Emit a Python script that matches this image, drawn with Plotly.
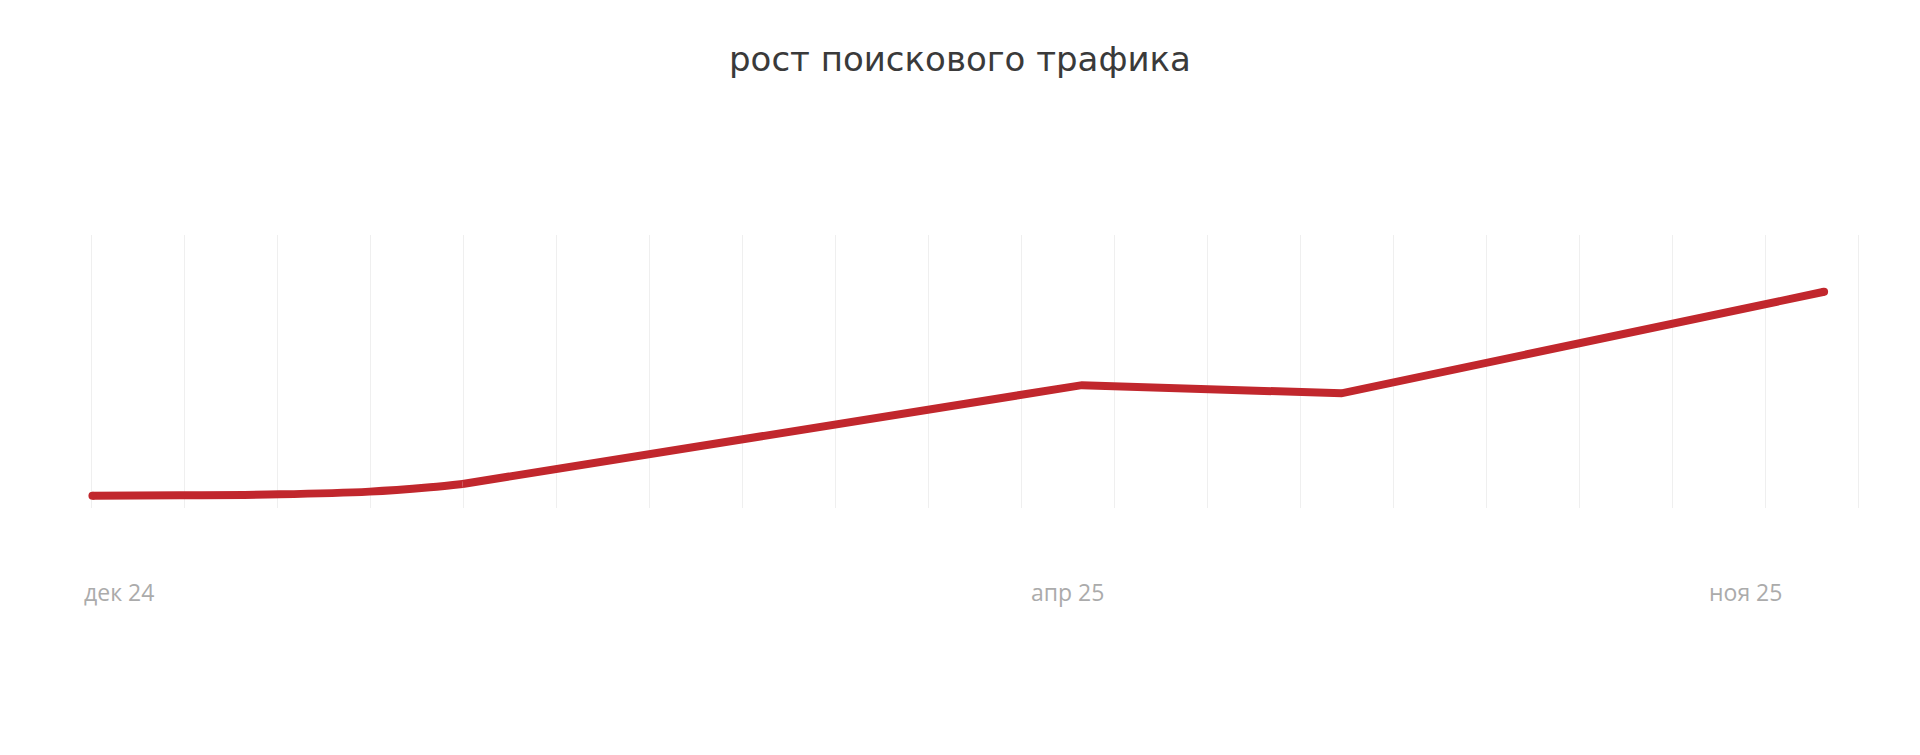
import plotly.graph_objects as go

# Data (x in grid-column units, y as relative traffic index 0..100)
x_vals = [0.01, 0.95, 2.02, 2.99, 3.64, 3.99, 10.65, 13.44, 18.63]
traffic = [4.5, 4.65, 5.0, 6.0, 7.6, 8.8, 45.0, 42.0, 79.2]

grid_positions = list(range(20))
label_positions = [0.30, 10.49, 17.78]
label_texts = ["дек 24", "апр 25", "ноя 25"]

title_text = "рост поискового трафика"

FONT = "Open Sans"
TITLE_FONT = "DejaVu Sans"
RED = "#C1272D"
LW = 8
SPLIT = 5  # smooth start segment up to this index, straight afterwards

fig = go.Figure()
fig.add_trace(go.Scatter(
    x=x_vals[:SPLIT + 1], y=traffic[:SPLIT + 1], mode="lines",
    line=dict(color=RED, width=LW, shape="spline", smoothing=1.0),
    hoverinfo="skip", cliponaxis=False,
))
fig.add_trace(go.Scatter(
    x=x_vals[SPLIT:], y=traffic[SPLIT:], mode="lines",
    line=dict(color=RED, width=LW, shape="linear"),
    hoverinfo="skip", cliponaxis=False,
))
# round caps at the ends
fig.add_trace(go.Scatter(
    x=[x_vals[0], x_vals[-1]], y=[traffic[0], traffic[-1]], mode="markers",
    marker=dict(color=RED, size=LW, line=dict(width=0)),
    hoverinfo="skip", cliponaxis=False,
))

for xp, txt in zip(label_positions, label_texts):
    fig.add_annotation(
        x=xp, xref="x", y=-0.308, yref="paper",
        text=txt, showarrow=False,
        xanchor="center", yanchor="middle",
        font=dict(family=FONT, size=23, color="#ababab"),
    )

W, H = 1920, 755
fig.update_layout(
    width=W, height=H,
    paper_bgcolor="white", plot_bgcolor="white",
    margin=dict(l=45, r=15, t=235, b=247),
    showlegend=False,
    title=dict(
        text=title_text, x=0.5, xanchor="center",
        y=1 - 59 / H, yanchor="middle", yref="container",
        font=dict(family=TITLE_FONT, size=34, color="#3a3a3a"),
    ),
    xaxis=dict(
        range=[-0.5, 19.5], tickvals=grid_positions, showticklabels=False,
        showgrid=True, gridcolor="#efefef", gridwidth=1.2,
        zeroline=False, showline=False, ticks="",
    ),
    yaxis=dict(
        range=[0, 100], showgrid=False, showticklabels=False,
        zeroline=False, showline=False, ticks="",
    ),
)

fig.write_html("out.html")
